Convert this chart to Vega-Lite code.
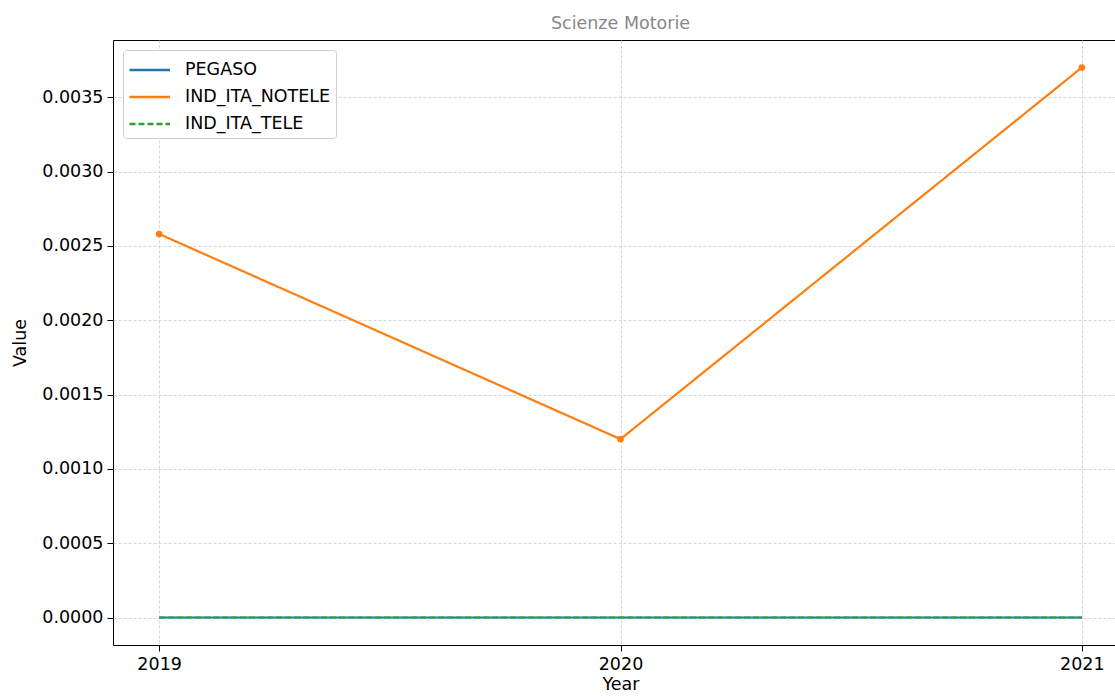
{
  "$schema": "https://vega.github.io/schema/vega-lite/v6.json",
  "autosize": "none",
  "padding": {"left": 113, "top": 40, "right": 0, "bottom": 52},
  "width": 1015,
  "height": 605,
  "background": "white",
  "title": {"text": "Scienze Motorie", "font": "DejaVu Sans", "fontSize": 17.5, "fontWeight": "normal", "color": "#888888", "offset": 8},
  "data": {"values": [
    {"series": "PEGASO", "year": 2019, "value": 0},
    {"series": "PEGASO", "year": 2020, "value": 0},
    {"series": "PEGASO", "year": 2021, "value": 0},
    {"series": "IND_ITA_NOTELE", "year": 2019, "value": 0.00258},
    {"series": "IND_ITA_NOTELE", "year": 2020, "value": 0.0012},
    {"series": "IND_ITA_NOTELE", "year": 2021, "value": 0.0037},
    {"series": "IND_ITA_TELE", "year": 2019, "value": 0},
    {"series": "IND_ITA_TELE", "year": 2020, "value": 0},
    {"series": "IND_ITA_TELE", "year": 2021, "value": 0}
  ]},
  "encoding": {
    "x": {"field": "year", "type": "quantitative", "title": "Year",
      "scale": {"domain": [2018.9, 2021.1], "nice": false, "zero": false},
      "axis": {"values": [2019, 2020, 2021], "format": "d", "titlePadding": 3}},
    "y": {"field": "value", "type": "quantitative", "title": "Value",
      "scale": {"domain": [-0.000185, 0.003885], "nice": false, "zero": false},
      "axis": {"values": [0, 0.0005, 0.001, 0.0015, 0.002, 0.0025, 0.003, 0.0035], "format": ".4f", "titlePadding": 12}}
  },
  "layer": [
    {
      "mark": {"type": "line", "strokeWidth": 2.2},
      "encoding": {
        "color": {"field": "series", "type": "nominal", "title": null,
          "scale": {"domain": ["PEGASO", "IND_ITA_NOTELE", "IND_ITA_TELE"], "range": ["#1f77b4", "#ff7f0e", "#2ca02c"]},
          "legend": {"orient": "top-left", "offset": 10, "symbolType": "M-1,0H2", "symbolSize": 729, "symbolStrokeWidth": 2.5,
            "labelFontSize": 17.5, "labelFont": "DejaVu Sans", "labelColor": "#000", "fillColor": "white", "strokeColor": "#d0d0d0",
            "cornerRadius": 3, "padding": 5, "rowPadding": 3, "labelOffset": 27}},
        "strokeDash": {"field": "series", "type": "nominal", "title": null,
          "scale": {"domain": ["PEGASO", "IND_ITA_NOTELE", "IND_ITA_TELE"], "range": [[1, 0], [1, 0], [6, 3]]}},
        "order": {"field": "series", "sort": "descending"}
      }
    },
    {
      "transform": [{"filter": "datum.series === 'IND_ITA_NOTELE'"}],
      "mark": {"type": "point", "filled": true, "size": 45, "color": "#ff7f0e", "opacity": 1}
    }
  ],
  "config": {
    "font": "DejaVu Sans",
    "view": {"stroke": "#000", "strokeWidth": 1},
    "axis": {
      "labelFont": "DejaVu Sans", "labelFontSize": 17.5, "labelColor": "#000",
      "titleFont": "DejaVu Sans", "titleFontSize": 17.5, "titleFontWeight": "normal", "titleColor": "#000",
      "domain": false, "tickColor": "#000", "tickSize": 6, "labelPadding": 4,
      "grid": true, "gridColor": "#cccccc", "gridDash": [3, 2], "gridWidth": 0.8
    }
  }
}
